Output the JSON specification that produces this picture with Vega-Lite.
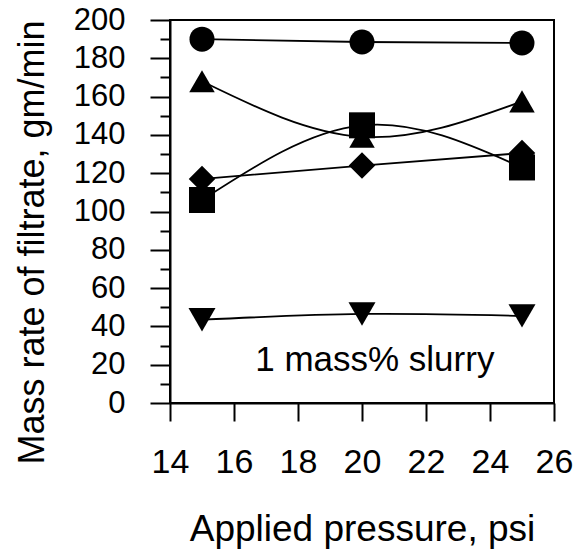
{
  "$schema": "https://vega.github.io/schema/vega-lite/v6.json",
  "autosize": "none",
  "width": 384,
  "height": 383,
  "padding": {"left": 170, "top": 20, "right": 21, "bottom": 148},
  "background": "white",
  "config": {
    "view": {"stroke": "black", "strokeWidth": 2},
    "font": "Liberation Sans",
    "axis": {"grid": false, "domainColor": "black", "tickColor": "black", "labelColor": "black", "titleColor": "black", "domainWidth": 2, "tickWidth": 2, "labelFontWeight": "normal", "titleFontWeight": "normal", "labelFlush": false, "labelOverlap": false}
  },
  "datasets": {
    "filtrate": [
      {"pressure": 15, "rate": 190, "series": "A"},
      {"pressure": 20, "rate": 188.5, "series": "A"},
      {"pressure": 25, "rate": 188, "series": "A"},
      {"pressure": 15, "rate": 168, "series": "B"},
      {"pressure": 20, "rate": 139, "series": "B"},
      {"pressure": 25, "rate": 157.5, "series": "B"},
      {"pressure": 15, "rate": 106, "series": "C"},
      {"pressure": 20, "rate": 145, "series": "C"},
      {"pressure": 25, "rate": 123, "series": "C"},
      {"pressure": 15, "rate": 117, "series": "D"},
      {"pressure": 20, "rate": 124, "series": "D"},
      {"pressure": 25, "rate": 130.5, "series": "D"},
      {"pressure": 15, "rate": 43.5, "series": "E"},
      {"pressure": 20, "rate": 46.5, "series": "E"},
      {"pressure": 25, "rate": 45.5, "series": "E"}
    ],
    "note": [{"label": "1 mass% slurry"}]
  },
  "resolve": {"axis": {"y": "independent", "x": "independent"}},
  "layer": [
    {
      "data": {"name": "filtrate"},
      "mark": {"type": "line", "interpolate": "natural", "color": "black", "strokeWidth": 1.8},
      "encoding": {
        "x": {"field": "pressure", "type": "quantitative", "scale": {"domain": [14, 26], "nice": false},
          "axis": {"values": [14, 16, 18, 20, 22, 24, 26], "tickSize": 18, "labelFontSize": 34, "labelPadding": 24, "title": "Applied pressure, psi", "titleFontSize": 37, "titleBaseline": "alphabetic", "titleY": 137}},
        "y": {"field": "rate", "type": "quantitative", "scale": {"domain": [0, 200], "nice": false},
          "axis": {"values": [0, 20, 40, 60, 80, 100, 120, 140, 160, 180, 200], "tickSize": 20, "labelFontSize": 31, "labelPadding": 25, "title": "Mass rate of filtrate, gm/min", "titleFontSize": 36, "titleBaseline": "alphabetic", "titleX": -127, "titleY": 222}},
        "detail": {"field": "series", "type": "nominal"}
      }
    },
    {
      "data": {"name": "filtrate"},
      "mark": {"type": "point", "filled": true, "color": "black", "opacity": 1},
      "encoding": {
        "x": {"field": "pressure", "type": "quantitative", "axis": null},
        "y": {"field": "rate", "type": "quantitative",
          "axis": {"orient": "left", "values": [10, 30, 50, 70, 90, 110, 130, 150, 170, 190], "tickSize": 10, "labels": false, "domain": false, "title": null}},
        "shape": {"field": "series", "type": "nominal", "legend": null,
          "scale": {"domain": ["A", "B", "C", "D", "E"], "range": ["circle", "triangle-up", "square", "diamond", "triangle-down"]}},
        "size": {"field": "series", "type": "nominal", "legend": null,
          "scale": {"domain": ["A", "B", "C", "D", "E"], "range": [625, 729, 484, 784, 729]}}
      }
    },
    {
      "data": {"name": "note"},
      "mark": {"type": "text", "fontSize": 35, "color": "black", "align": "center", "baseline": "middle"},
      "encoding": {
        "x": {"datum": 20.4, "type": "quantitative", "axis": null},
        "y": {"datum": 22.5, "type": "quantitative", "axis": null},
        "text": {"field": "label", "type": "nominal"}
      }
    }
  ]
}
